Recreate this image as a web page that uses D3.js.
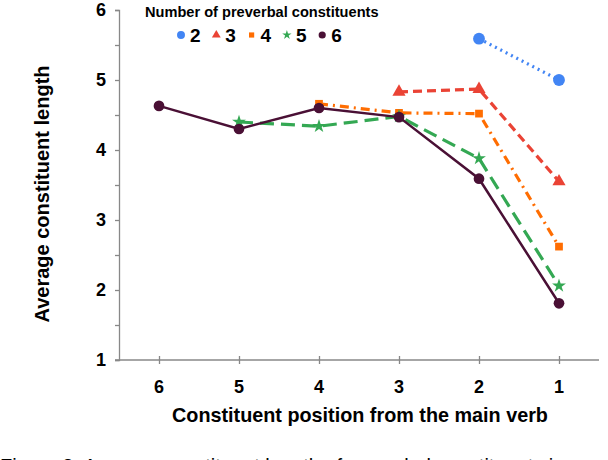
<!DOCTYPE html>
<html>
<head>
<meta charset="utf-8">
<script src="https://cdn.jsdelivr.net/npm/d3@7"></script>
<style>
  body { margin: 0; background: #fff; }
  svg { display: block; }
  text { font-family: 'Liberation Sans', Arial, sans-serif; }
</style>
</head>
<body>
<svg id="chart"></svg>
<script>
// positions from the main verb (x categories)
const positions = ['6', '5', '4', '3', '2', '1']
const yTicks = [1, 2, 3, 4, 5, 6]

// average constituent length, by number of preverbal constituents
const series2 = [null, null, null, null, 5.59, 5.0]
const series3 = [null, null, null, 4.83, 4.87, 3.55]
const series4 = [null, null, 4.66, 4.53, 4.52, 2.62]
const series5 = [null, 4.40, 4.34, 4.48, 3.88, 2.06]
const series6 = [4.63, 4.30, 4.60, 4.47, 3.59, 1.81]

const seriesNames = ['2', '3', '4', '5', '6']
const seriesValues = [series2, series3, series4, series5, series6]

const styles = {
	'2': { color: '#4285f4', dash: '2,4', width: 3.2, symbol: d3.symbolCircle, size: 110 },
	'3': { color: '#ea4335', dash: '9,5', width: 3.2, symbol: d3.symbolTriangle, size: 75 },
	'4': { color: '#ff6d01', dash: '9,5,2,5', width: 3.2, symbol: d3.symbolSquare, size: 60 },
	'5': { color: '#34a853', dash: '14,7', width: 3.2, symbol: d3.symbolStar, size: 60 },
	'6': { color: '#4a1035', dash: null, width: 2.5, symbol: d3.symbolCircle, size: 90 },
}

const W = 608, H = 460
const plotLeft = 119, plotRight = 599, plotTop = 10, plotBottom = 360

const svg = d3.select('#chart')
	.attr('width', W)
	.attr('height', H)

const x = d3.scalePoint()
	.domain(positions)
	.range([plotLeft, plotRight])
	.padding(0.5)
const y = d3.scaleLinear()
	.domain([1, 6])
	.range([plotBottom, plotTop])

const axisColor = '#888'

// y axis
const yAxis = svg.append('g')
	.attr('transform', `translate(${plotLeft},0)`)
	.call(d3.axisLeft(y).tickValues(d3.range(1, 6.01, 0.5)).tickSize(4).tickFormat(''))
yAxis.select('.domain').attr('stroke', axisColor).attr('stroke-width', 1.3)
yAxis.selectAll('.tick line').attr('stroke', axisColor).attr('stroke-width', 1.3)

svg.append('g').selectAll('text')
	.data(yTicks)
	.join('text')
	.attr('x', 106)
	.attr('y', d => y(d))
	.attr('dy', '0.36em')
	.attr('text-anchor', 'end')
	.attr('font-size', 18)
	.attr('font-weight', 'bold')
	.text(d => d)

// x axis
const xAxis = svg.append('g')
	.attr('transform', `translate(0,${plotBottom})`)
	.call(d3.axisBottom(x).tickSize(0).tickFormat(''))
xAxis.select('.domain')
	.attr('d', `M${plotLeft - 4},0H${plotRight}`)
	.attr('stroke', axisColor).attr('stroke-width', 1.3)
xAxis.selectAll('.tick').append('line')
	.attr('y1', -4).attr('y2', 4)
	.attr('stroke', axisColor).attr('stroke-width', 1.3)

svg.append('g').selectAll('text')
	.data(positions)
	.join('text')
	.attr('x', d => x(d))
	.attr('y', 393)
	.attr('text-anchor', 'middle')
	.attr('font-size', 18)
	.attr('font-weight', 'bold')
	.text(d => d)

// axis titles
svg.append('text')
	.attr('transform', 'translate(49,194) rotate(-90)')
	.attr('text-anchor', 'middle')
	.attr('font-size', 20)
	.attr('font-weight', 'bold')
	.text('Average constituent length')

svg.append('text')
	.attr('x', 360)
	.attr('y', 422)
	.attr('text-anchor', 'middle')
	.attr('font-size', 19.8)
	.attr('font-weight', 'bold')
	.text('Constituent position from the main verb')

// lines + markers
const line = d3.line()
	.defined(d => d.v != null)
	.x(d => x(d.p))
	.y(d => y(d.v))

seriesNames.forEach((name, i) => {
	const st = styles[name]
	const pts = positions.map((p, j) => ({ p, v: seriesValues[i][j] }))
	const g = svg.append('g')
	g.append('path')
		.datum(pts)
		.attr('d', line)
		.attr('fill', 'none')
		.attr('stroke', st.color)
		.attr('stroke-width', st.width)
		.attr('stroke-dasharray', st.dash)
	g.selectAll('path.pt')
		.data(pts.filter(d => d.v != null))
		.join('path')
		.attr('class', 'pt')
		.attr('transform', d => `translate(${x(d.p)},${y(d.v)})`)
		.attr('d', d3.symbol(st.symbol, st.size))
		.attr('fill', st.color)
})

// legend
svg.append('text')
	.attr('x', 145)
	.attr('y', 17)
	.attr('font-size', 14.6)
	.attr('font-weight', 'bold')
	.text('Number of preverbal constituents')

const legend = svg.append('g').selectAll('g')
	.data(seriesNames)
	.join('g')
	.attr('transform', (d, i) => `translate(${181 + i * 35.3},35)`)
legend.append('path')
	.attr('d', d => d3.symbol(styles[d].symbol, styles[d].size * 0.45)())
	.attr('fill', d => styles[d].color)
legend.append('text')
	.attr('x', 9)
	.attr('y', 7)
	.attr('font-size', 19)
	.attr('font-weight', 'bold')
	.text(d => d)

// caption (cut off by the page edge, as in the source)
svg.append('text')
	.attr('x', 0)
	.attr('y', 472.5)
	.attr('font-family', "'Liberation Serif', 'Times New Roman', serif")
	.attr('font-size', 20)
	.text('Figure 3: Average constituent length of preverbal constituents in')
</script>
</body>
</html>
